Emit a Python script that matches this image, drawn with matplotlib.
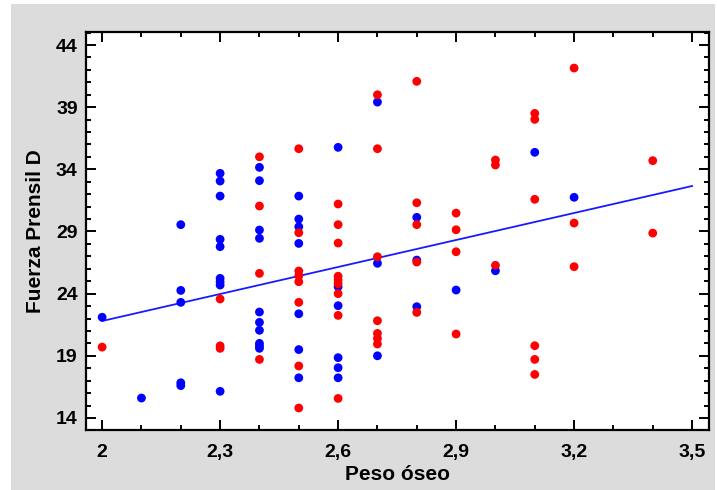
import matplotlib.pyplot as plt
import numpy as np
from matplotlib.patches import Rectangle
from matplotlib.ticker import FuncFormatter, MultipleLocator

# Blue group: (Peso oseo, Fuerza Prensil D)
blue_x = [2.0, 2.1,
          2.2, 2.2, 2.2, 2.2, 2.2,
          2.3, 2.3, 2.3, 2.3, 2.3, 2.3, 2.3, 2.3, 2.3,
          2.4, 2.4, 2.4, 2.4, 2.4, 2.4, 2.4, 2.4, 2.4, 2.4,
          2.5, 2.5, 2.5, 2.5, 2.5, 2.5, 2.5,
          2.6, 2.6, 2.6, 2.6, 2.6, 2.6,
          2.7, 2.7, 2.7,
          2.8, 2.8, 2.8,
          2.9, 3.0, 3.1, 3.2]
blue_y = [22.1, 15.6,
          29.55, 24.26, 23.3, 16.83, 16.6,
          33.68, 33.06, 31.85, 28.37, 27.78, 25.23, 24.95, 24.69, 16.14,
          34.16, 33.09, 29.12, 28.45, 22.52, 21.69, 21.05, 20.0, 19.8, 19.6,
          31.85, 30.0, 29.38, 28.04, 22.38, 19.5, 17.23,
          35.77, 24.56, 23.03, 18.85, 18.04, 17.23,
          39.41, 26.44, 19.0,
          30.14, 26.7, 22.95,
          24.29, 25.84, 35.37, 31.75]

# Red group
red_x = [2.0,
         2.3, 2.3, 2.3,
         2.4, 2.4, 2.4, 2.4,
         2.5, 2.5, 2.5, 2.5, 2.5, 2.5, 2.5, 2.5,
         2.6, 2.6, 2.6, 2.6, 2.6, 2.6, 2.6, 2.6, 2.6,
         2.7, 2.7, 2.7, 2.7, 2.7, 2.7, 2.7,
         2.8, 2.8, 2.8, 2.8, 2.8,
         2.9, 2.9, 2.9, 2.9,
         3.0, 3.0, 3.0,
         3.1, 3.1, 3.1, 3.1, 3.1, 3.1,
         3.2, 3.2, 3.2,
         3.4, 3.4]
red_y = [19.7,
         23.57, 19.8, 19.6,
         35.01, 31.05, 25.63, 18.71,
         35.66, 28.9, 25.82, 25.44, 24.96, 23.3, 18.18, 14.8,
         31.21, 29.55, 28.07, 25.4, 25.1, 24.8, 24.0, 22.25, 15.57,
         40.0, 35.66, 26.97, 21.82, 20.8, 20.4, 19.95,
         41.08, 31.31, 29.55, 26.54, 22.49,
         30.48, 29.14, 27.37, 20.75,
         34.75, 34.35, 26.28,
         38.5, 38.02, 31.59, 19.81, 18.71, 17.5,
         42.15, 29.68, 26.17,
         34.7, 28.87]

# Fitted line endpoints
fit_x = [2.0, 3.5]
fit_y = [21.8, 32.66]

plt.rcParams["font.family"] = ["Liberation Sans", "DejaVu Sans"]
plt.rcParams["font.weight"] = "bold"

fig = plt.figure(figsize=(7.17, 4.90), dpi=100, facecolor="white")
fig.patches.append(Rectangle((11 / 717, 0), 704 / 717, 486 / 490,
                             transform=fig.transFigure, facecolor="#dcdcdc",
                             edgecolor="none", zorder=-10))

ax = fig.add_axes([86 / 717, 1 - 430 / 490, 623 / 717, 398 / 490])
ax.set_facecolor("white")

ax.scatter(blue_x, blue_y, s=40, color="#0000ff", edgecolors="none", zorder=3)
ax.scatter(red_x, red_y, s=40, color="#ff0000", edgecolors="none", zorder=4)
ax.plot(fit_x, fit_y, color="#1a1aff", lw=1.3, zorder=2)

ax.set_xlim(1.959, 3.543)
ax.set_ylim(13.03, 45.05)

ax.xaxis.set_minor_locator(MultipleLocator(0.1))
ax.yaxis.set_minor_locator(MultipleLocator(1))
ax.set_xticks([2.0, 2.3, 2.6, 2.9, 3.2, 3.5])
ax.set_yticks([14, 19, 24, 29, 34, 39, 44])


def _fmt(v, _pos):
    s = f"{v:.1f}".rstrip("0").rstrip(".")
    return s.replace(".", ",")


ax.xaxis.set_major_formatter(FuncFormatter(_fmt))
ax.yaxis.set_major_formatter(FuncFormatter(lambda v, _p: f"{v:.0f}"))

ax.tick_params(which="both", direction="in", top=True, right=True,
               width=1.4, color="black")
ax.tick_params(which="major", length=7, labelsize=14)
ax.tick_params(axis="x", which="major", pad=10)
ax.tick_params(axis="y", which="major", pad=6)
ax.tick_params(which="minor", length=3.5)
for lab in ax.get_xticklabels() + ax.get_yticklabels():
    lab.set_fontweight("bold")

for sp in ax.spines.values():
    sp.set_linewidth(1.6)

ax.set_xlabel("Peso óseo", fontsize=15, fontweight="bold", labelpad=3)
ax.set_ylabel("Fuerza Prensil D", fontsize=15, fontweight="bold", labelpad=8)

fig.savefig("out.png", dpi=100, facecolor="white")
